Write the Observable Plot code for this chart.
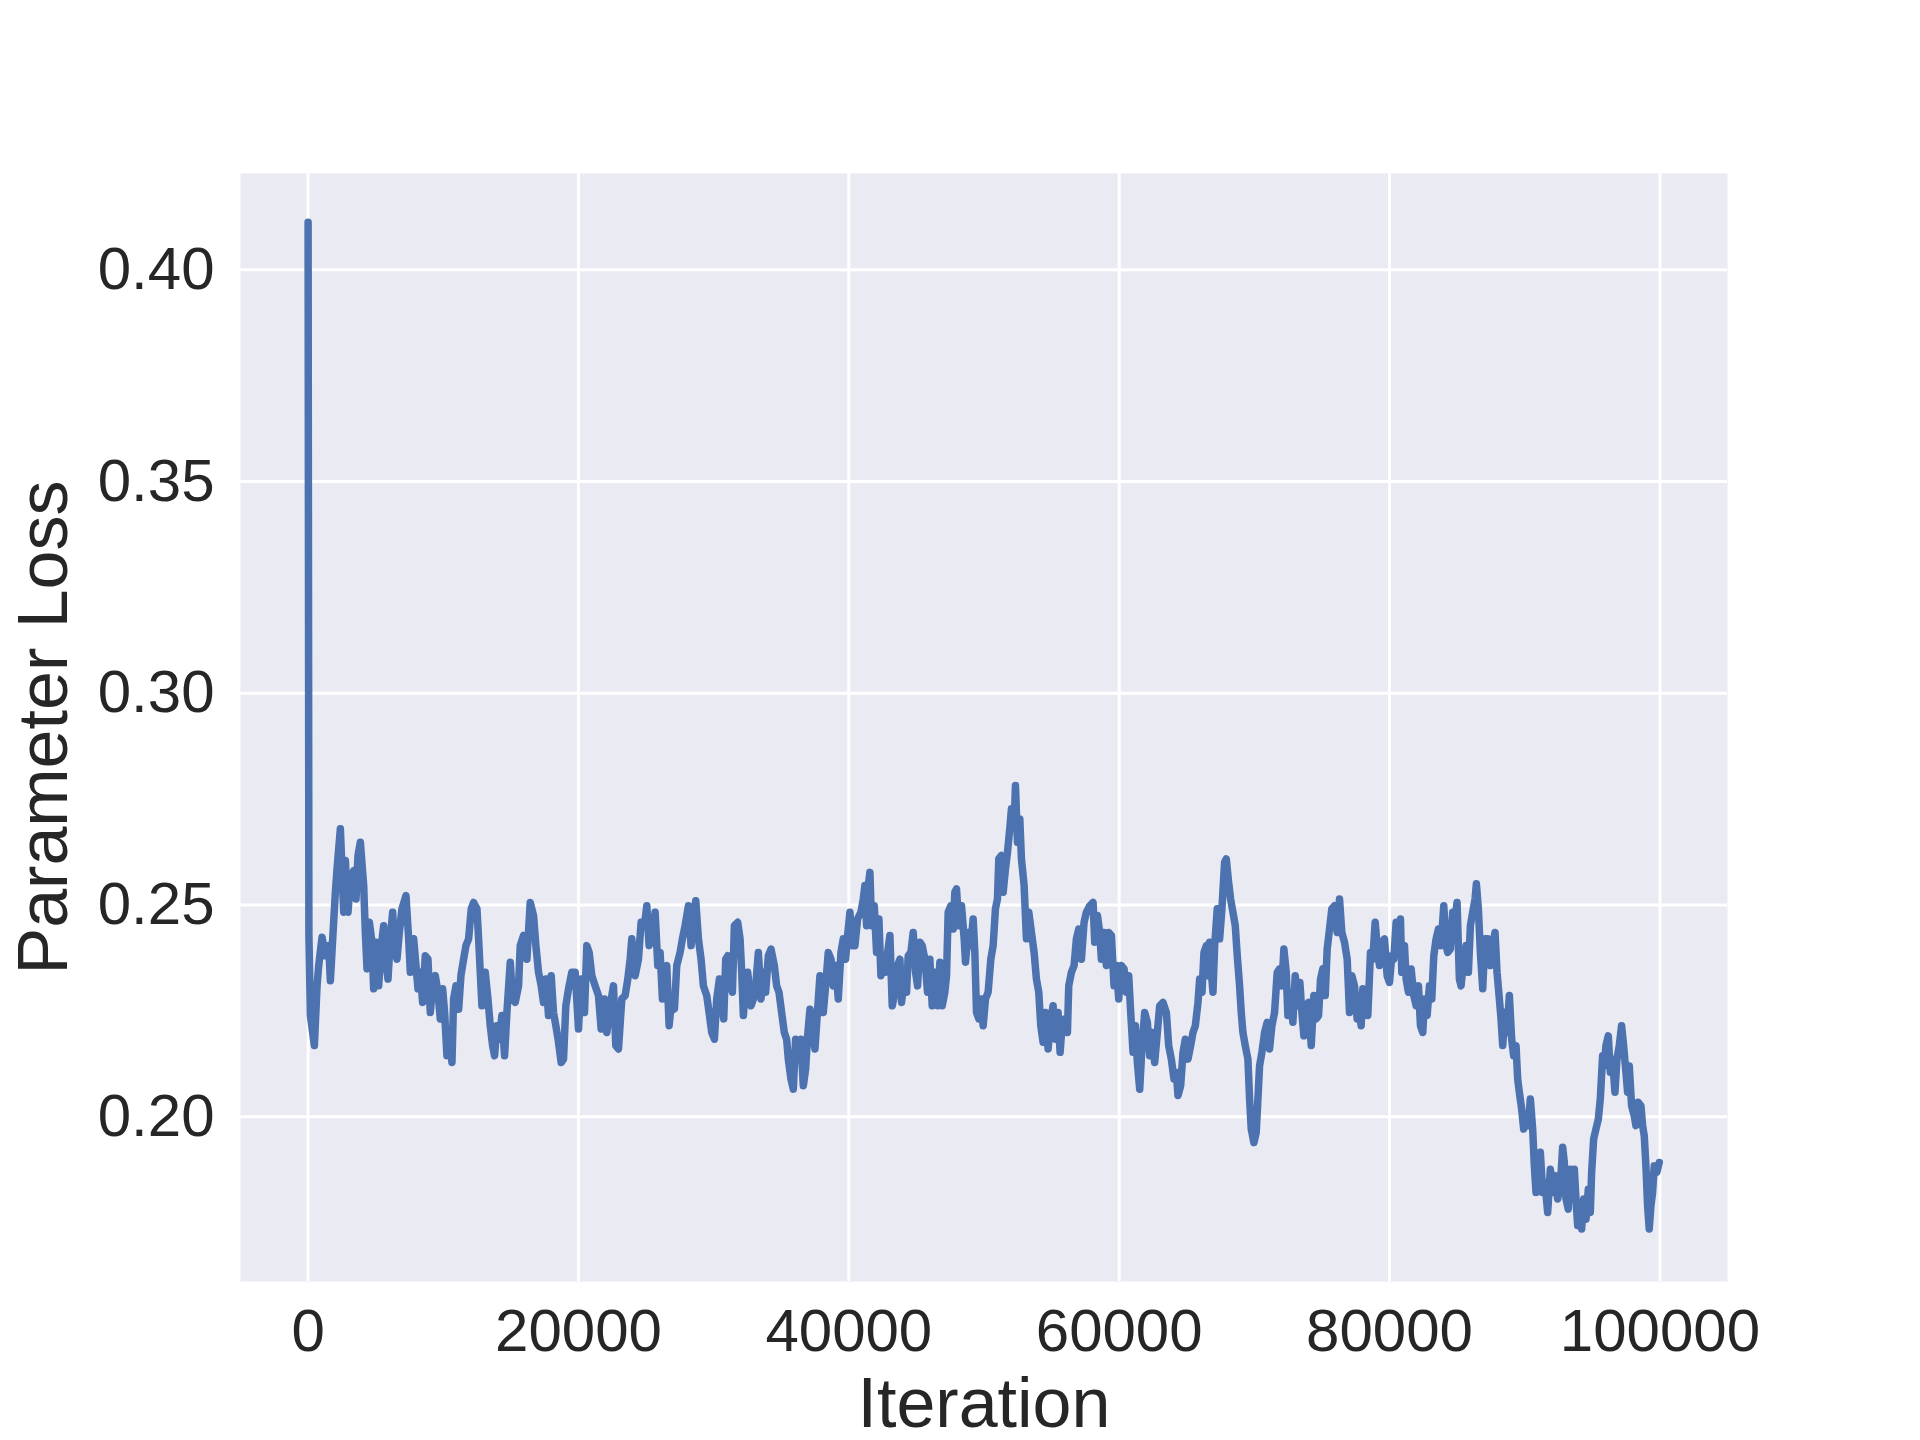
<!DOCTYPE html>
<html>
<head>
<meta charset="utf-8">
<script src="https://cdn.jsdelivr.net/npm/d3@7"></script>
<script src="https://cdn.jsdelivr.net/npm/@observablehq/plot@0.6"></script>
<style>
  html, body { margin: 0; padding: 0; background: #ffffff; }
  #chart svg { display: block; }
</style>
</head>
<body>
<div id="chart"></div>
<script>
// ---- data ----
const xTicks = [0, 20000, 40000, 60000, 80000, 100000];
const yTicks = [0.20, 0.25, 0.30, 0.35, 0.40];
const xLabel = "Iteration";
const yLabel = "Parameter Loss";

const iterations = [
  0, 60, 170, 465, 663, 786, 1032, 1279, 1525, 1648, 1821, 2018, 2141, 2387, 2634, 2757, 2954, 3127, 3373, 3545,
  3693, 3866, 4112, 4235, 4359, 4531, 4728, 4851, 5024, 5221, 5418, 5591, 5714, 5911, 6083, 6256, 6404, 6576, 6749, 6946,
  7242, 7439, 7562, 7808, 7981, 8129, 8301, 8473, 8670, 8868, 9040, 9213, 9410, 9607, 9779, 9952, 10100, 10272, 10445, 10642,
  10765, 10938, 11135, 11307, 11504, 11677, 11874, 12071, 12243, 12490, 12613, 12736, 12860, 13106, 13303, 13475, 13648, 13796, 13968, 14141,
  14338, 14535, 14707, 14954, 15127, 15324, 15570, 15693, 15940, 16186, 16432, 16677, 16850, 17047, 17244, 17416, 17589, 17786, 17983, 18155,
  18328, 18525, 18722, 18895, 19067, 19264, 19511, 19757, 20003, 20200, 20447, 20619, 20792, 20989, 21235, 21482, 21679, 21925, 22098, 22344,
  22590, 22763, 22960, 23207, 23453, 23650, 23823, 23946, 24192, 24439, 24636, 24882, 25055, 25227, 25424, 25671, 25868, 26040, 26213, 26361,
  26533, 26706, 26903, 27100, 27272, 27519, 27691, 27888, 28135, 28332, 28504, 28677, 28874, 29071, 29243, 29490, 29663, 29860, 30057, 30229,
  30426, 30599, 30747, 30894, 31042, 31215, 31387, 31535, 31781, 31954, 32077, 32200, 32323, 32520, 32767, 32940, 33112, 33309, 33504, 33676,
  33848, 34046, 34243, 34489, 34662, 34834, 35031, 35228, 35401, 35524, 35721, 35894, 36066, 36263, 36460, 36633, 36805, 36953, 37126, 37298,
  37495, 37692, 37865, 38111, 38284, 38481, 38678, 38850, 39023, 39220, 39417, 39590, 39762, 39910, 40082, 40255, 40452, 40649, 40896, 41068,
  41191, 41314, 41438, 41561, 41684, 41881, 42053, 42226, 42374, 42546, 42719, 42867, 43039, 43212, 43409, 43606, 43778, 43902, 44099, 44271,
  44394, 44592, 44764, 44937, 45085, 45257, 45430, 45627, 45824, 45996, 46169, 46366, 46563, 46736, 46908, 47105, 47228, 47351, 47549, 47721,
  47844, 47967, 48140, 48337, 48534, 48632, 48830, 49027, 49199, 49322, 49446, 49618, 49815, 49938, 50111, 50306, 50504, 50676, 50848, 50996,
  51095, 51292, 51415, 51588, 51736, 51908, 52031, 52228, 52327, 52475, 52647, 52770, 52967, 53140, 53312, 53510, 53707, 53879, 54052, 54200,
  54372, 54544, 54742, 54939, 55111, 55284, 55481, 55629, 55776, 55974, 56171, 56269, 56466, 56663, 56836, 57008, 57206, 57403, 57575, 57822,
  58068, 58191, 58389, 58561, 58684, 58881, 59054, 59226, 59423, 59620, 59793, 59965, 60162, 60360, 60532, 60704, 60852, 61025, 61197, 61345,
  61518, 61690, 61887, 62084, 62257, 62429, 62626, 62823, 62996, 63242, 63489, 63661, 63858, 64055, 64228, 64351, 64548, 64721, 64893, 65090,
  65288, 65460, 65633, 65830, 65953, 66126, 66273, 66446, 66569, 66692, 66815, 66938, 67062, 67256, 67429, 67601, 67798, 67921, 68094, 68242,
  68414, 68587, 68735, 68907, 69030, 69153, 69326, 69523, 69646, 69769, 69966, 70139, 70262, 70385, 70558, 70755, 70952, 71124, 71297, 71494,
  71691, 71863, 72036, 72184, 72357, 72480, 72677, 72849, 73022, 73219, 73367, 73515, 73662, 73835, 74008, 74205, 74402, 74574, 74747, 74895,
  75067, 75240, 75387, 75560, 75732, 75929, 76126, 76299, 76471, 76668, 76866, 77038, 77211, 77408, 77605, 77777, 77901, 78024, 78196, 78393,
  78590, 78763, 78936, 79083, 79256, 79428, 79626, 79823, 79995, 80168, 80315, 80488, 80660, 80808, 80907, 81104, 81227, 81399, 81596, 81794,
  81966, 82139, 82287, 82459, 82582, 82779, 82952, 83124, 83272, 83445, 83617, 83814, 84011, 84181, 84304, 84501, 84674, 84846, 84994, 85167,
  85290, 85487, 85660, 85832, 85980, 86152, 86325, 86423, 86571, 86719, 86892, 87064, 87261, 87458, 87631, 87803, 87951, 88124, 88247, 88370,
  88542, 88690, 88863, 89035, 89183, 89356, 89479, 89602, 89774, 89922, 90095, 90267, 90415, 90588, 90711, 90834, 91007, 91154, 91327, 91499,
  91697, 91894, 92066, 92239, 92436, 92633, 92805, 92928, 93052, 93224, 93372, 93544, 93668, 93791, 93914, 94111, 94210, 94358, 94530, 94702,
  94850, 94949, 95097, 95269, 95442, 95590, 95762, 95885, 96008, 96181, 96329, 96501, 96674, 96822, 96994, 97166, 97314, 97487, 97610, 97733,
  97906, 98103, 98226, 98398, 98595, 98719, 98842, 98965, 99088, 99211, 99335, 99458, 99581, 99778, 99951
];

const losses = [
  0.4112, 0.2430, 0.2239, 0.2168, 0.2309, 0.2357, 0.2424, 0.2380, 0.2404, 0.2321, 0.2420, 0.2530, 0.2585, 0.2680, 0.2483, 0.2605, 0.2483, 0.2561, 0.2581, 0.2514,
  0.2617, 0.2648, 0.2546, 0.2435, 0.2349, 0.2459, 0.2412, 0.2302, 0.2412, 0.2309, 0.2404, 0.2451, 0.2380, 0.2325, 0.2420, 0.2483, 0.2396, 0.2372, 0.2435, 0.2491,
  0.2522, 0.2420, 0.2341, 0.2420, 0.2357, 0.2302, 0.2341, 0.2270, 0.2380, 0.2372, 0.2246, 0.2309, 0.2333, 0.2294, 0.2231, 0.2302, 0.2246, 0.2144, 0.2199, 0.2128,
  0.2278, 0.2309, 0.2254, 0.2333, 0.2372, 0.2404, 0.2420, 0.2491, 0.2506, 0.2491, 0.2420, 0.2341, 0.2262, 0.2341, 0.2278, 0.2215, 0.2168, 0.2144, 0.2215, 0.2183,
  0.2239, 0.2144, 0.2246, 0.2365, 0.2278, 0.2270, 0.2309, 0.2404, 0.2428, 0.2372, 0.2506, 0.2475, 0.2404, 0.2341, 0.2309, 0.2270, 0.2325, 0.2239, 0.2333, 0.2246,
  0.2215, 0.2176, 0.2128, 0.2136, 0.2262, 0.2302, 0.2341, 0.2341, 0.2207, 0.2325, 0.2246, 0.2404, 0.2388, 0.2333, 0.2309, 0.2286, 0.2207, 0.2278, 0.2199, 0.2262,
  0.2309, 0.2168, 0.2160, 0.2278, 0.2286, 0.2325, 0.2372, 0.2420, 0.2333, 0.2372, 0.2459, 0.2451, 0.2498, 0.2404, 0.2420, 0.2483, 0.2357, 0.2388, 0.2278, 0.2341,
  0.2357, 0.2215, 0.2278, 0.2254, 0.2357, 0.2388, 0.2420, 0.2451, 0.2498, 0.2404, 0.2467, 0.2510, 0.2420, 0.2372, 0.2309, 0.2286, 0.2246, 0.2199, 0.2183, 0.2278,
  0.2325, 0.2262, 0.2231, 0.2372, 0.2380, 0.2325, 0.2294, 0.2451, 0.2459, 0.2420, 0.2341, 0.2239, 0.2294, 0.2341, 0.2262, 0.2278, 0.2309, 0.2388, 0.2278, 0.2341,
  0.2294, 0.2380, 0.2396, 0.2357, 0.2309, 0.2294, 0.2246, 0.2199, 0.2183, 0.2136, 0.2089, 0.2065, 0.2183, 0.2136, 0.2183, 0.2073, 0.2113, 0.2191, 0.2254, 0.2199,
  0.2160, 0.2254, 0.2333, 0.2246, 0.2309, 0.2388, 0.2372, 0.2309, 0.2357, 0.2278, 0.2388, 0.2420, 0.2372, 0.2428, 0.2483, 0.2404, 0.2404, 0.2467, 0.2483, 0.2514,
  0.2546, 0.2451, 0.2546, 0.2577, 0.2451, 0.2498, 0.2388, 0.2467, 0.2333, 0.2372, 0.2341, 0.2388, 0.2428, 0.2262, 0.2294, 0.2357, 0.2372, 0.2270, 0.2325, 0.2294,
  0.2380, 0.2388, 0.2435, 0.2341, 0.2309, 0.2412, 0.2404, 0.2372, 0.2294, 0.2372, 0.2262, 0.2341, 0.2262, 0.2365, 0.2262, 0.2294, 0.2333, 0.2483, 0.2498, 0.2443,
  0.2530, 0.2538, 0.2451, 0.2498, 0.2420, 0.2365, 0.2435, 0.2404, 0.2467, 0.2388, 0.2246, 0.2231, 0.2278, 0.2215, 0.2278, 0.2294, 0.2372, 0.2404, 0.2491, 0.2514,
  0.2609, 0.2617, 0.2530, 0.2585, 0.2624, 0.2680, 0.2727, 0.2687, 0.2782, 0.2648, 0.2703, 0.2609, 0.2546, 0.2420, 0.2483, 0.2435, 0.2388, 0.2325, 0.2294, 0.2215,
  0.2176, 0.2246, 0.2160, 0.2231, 0.2262, 0.2183, 0.2246, 0.2152, 0.2215, 0.2231, 0.2199, 0.2309, 0.2341, 0.2357, 0.2420, 0.2443, 0.2372, 0.2459, 0.2483, 0.2498,
  0.2506, 0.2412, 0.2475, 0.2435, 0.2372, 0.2435, 0.2357, 0.2435, 0.2428, 0.2309, 0.2357, 0.2278, 0.2357, 0.2349, 0.2294, 0.2333, 0.2246, 0.2152, 0.2215, 0.2128,
  0.2065, 0.2168, 0.2246, 0.2223, 0.2144, 0.2199, 0.2128, 0.2199, 0.2262, 0.2270, 0.2246, 0.2168, 0.2136, 0.2089, 0.2105, 0.2050, 0.2073, 0.2152, 0.2183, 0.2136,
  0.2168, 0.2199, 0.2215, 0.2270, 0.2325, 0.2294, 0.2388, 0.2404, 0.2333, 0.2412, 0.2341, 0.2294, 0.2404, 0.2491, 0.2420, 0.2491, 0.2601, 0.2609, 0.2554, 0.2514,
  0.2483, 0.2451, 0.2380, 0.2309, 0.2246, 0.2199, 0.2168, 0.2136, 0.2042, 0.1971, 0.1939, 0.1963, 0.2042, 0.2120, 0.2152, 0.2199, 0.2223, 0.2160, 0.2215, 0.2246,
  0.2341, 0.2349, 0.2309, 0.2396, 0.2341, 0.2239, 0.2294, 0.2223, 0.2333, 0.2262, 0.2317, 0.2246, 0.2191, 0.2262, 0.2270, 0.2168, 0.2286, 0.2231, 0.2239, 0.2325,
  0.2349, 0.2286, 0.2396, 0.2443, 0.2491, 0.2498, 0.2435, 0.2514, 0.2435, 0.2412, 0.2372, 0.2246, 0.2333, 0.2309, 0.2231, 0.2246, 0.2215, 0.2302, 0.2262, 0.2239,
  0.2388, 0.2372, 0.2459, 0.2404, 0.2357, 0.2412, 0.2420, 0.2333, 0.2317, 0.2380, 0.2372, 0.2459, 0.2443, 0.2467, 0.2341, 0.2404, 0.2325, 0.2294, 0.2349, 0.2286,
  0.2262, 0.2309, 0.2215, 0.2199, 0.2278, 0.2239, 0.2309, 0.2278, 0.2380, 0.2420, 0.2443, 0.2404, 0.2498, 0.2404, 0.2388, 0.2396, 0.2483, 0.2467, 0.2506, 0.2325,
  0.2309, 0.2372, 0.2404, 0.2341, 0.2451, 0.2483, 0.2514, 0.2550, 0.2491, 0.2388, 0.2302, 0.2420, 0.2420, 0.2357, 0.2404, 0.2435, 0.2341, 0.2278, 0.2231, 0.2168,
  0.2247, 0.2199, 0.2286, 0.2183, 0.2144, 0.2168, 0.2089, 0.2058, 0.2018, 0.1971, 0.1994, 0.1979, 0.2042, 0.1971, 0.1884, 0.1821, 0.1869, 0.1916, 0.1821, 0.1845,
  0.1774, 0.1876, 0.1821, 0.1861, 0.1806, 0.1837, 0.1928, 0.1892, 0.1806, 0.1782, 0.1876, 0.1837, 0.1876, 0.1806, 0.1743, 0.1774, 0.1735, 0.1806, 0.1758, 0.1829,
  0.1774, 0.1869, 0.1947, 0.1971, 0.1994, 0.2042, 0.2144, 0.2120, 0.2168, 0.2191, 0.2105, 0.2136, 0.2058, 0.2136, 0.2168, 0.2215, 0.2168, 0.2105, 0.2058, 0.2120,
  0.2026, 0.2002, 0.1979, 0.2034, 0.2026, 0.1979, 0.1955, 0.1884, 0.1790, 0.1735, 0.1790, 0.1821, 0.1884, 0.1869, 0.1892
];

const xDomain = [-5000, 105000];
const yDomain = [0.1611, 0.4227];

// ---- build chart ----
const data = iterations.map((it, i) => ({iteration: it, loss: losses[i]}));

const FONT = "'Liberation Sans', Arial, Helvetica, sans-serif";
const TEXT = "#262626";

const chart = Plot.plot({
  width: 1920,
  height: 1440,
  marginLeft: 240,
  marginRight: 193,
  marginTop: 173,
  marginBottom: 159,
  style: {fontFamily: FONT, color: TEXT, background: "#ffffff", overflow: "visible"},
  x: {domain: xDomain, label: null},
  y: {domain: yDomain, label: null},
  marks: [
    Plot.frame({fill: "#EAEAF2", stroke: null}),
    Plot.gridX(xTicks, {stroke: "#ffffff", strokeOpacity: 1, strokeWidth: 3}),
    Plot.gridY(yTicks, {stroke: "#ffffff", strokeOpacity: 1, strokeWidth: 3}),
    Plot.line(data, {
      x: "iteration", y: "loss",
      stroke: "#4C72B0", strokeWidth: 7.5,
      strokeLinejoin: "round", strokeLinecap: "round"
    }),
    Plot.axisX(xTicks, {
      tickSize: 0, tickPadding: 27, fontSize: 60, fill: TEXT,
      tickFormat: d => String(d), label: null
    }),
    Plot.axisY(yTicks, {
      tickSize: 0, tickPadding: 26, fontSize: 60, fill: TEXT,
      tickFormat: d => d.toFixed(2), label: null
    }),
    Plot.text([xLabel], {
      frameAnchor: "bottom", lineAnchor: "bottom", textAnchor: "middle", dy: 145,
      fontSize: 70, fill: TEXT, text: d => d
    }),
    Plot.text([yLabel], {
      frameAnchor: "left", lineAnchor: "bottom", textAnchor: "middle", rotate: -90, dx: -174,
      fontSize: 70, fill: TEXT, text: d => d
    })
  ]
});

document.getElementById("chart").appendChild(chart);
</script>
</body>
</html>
